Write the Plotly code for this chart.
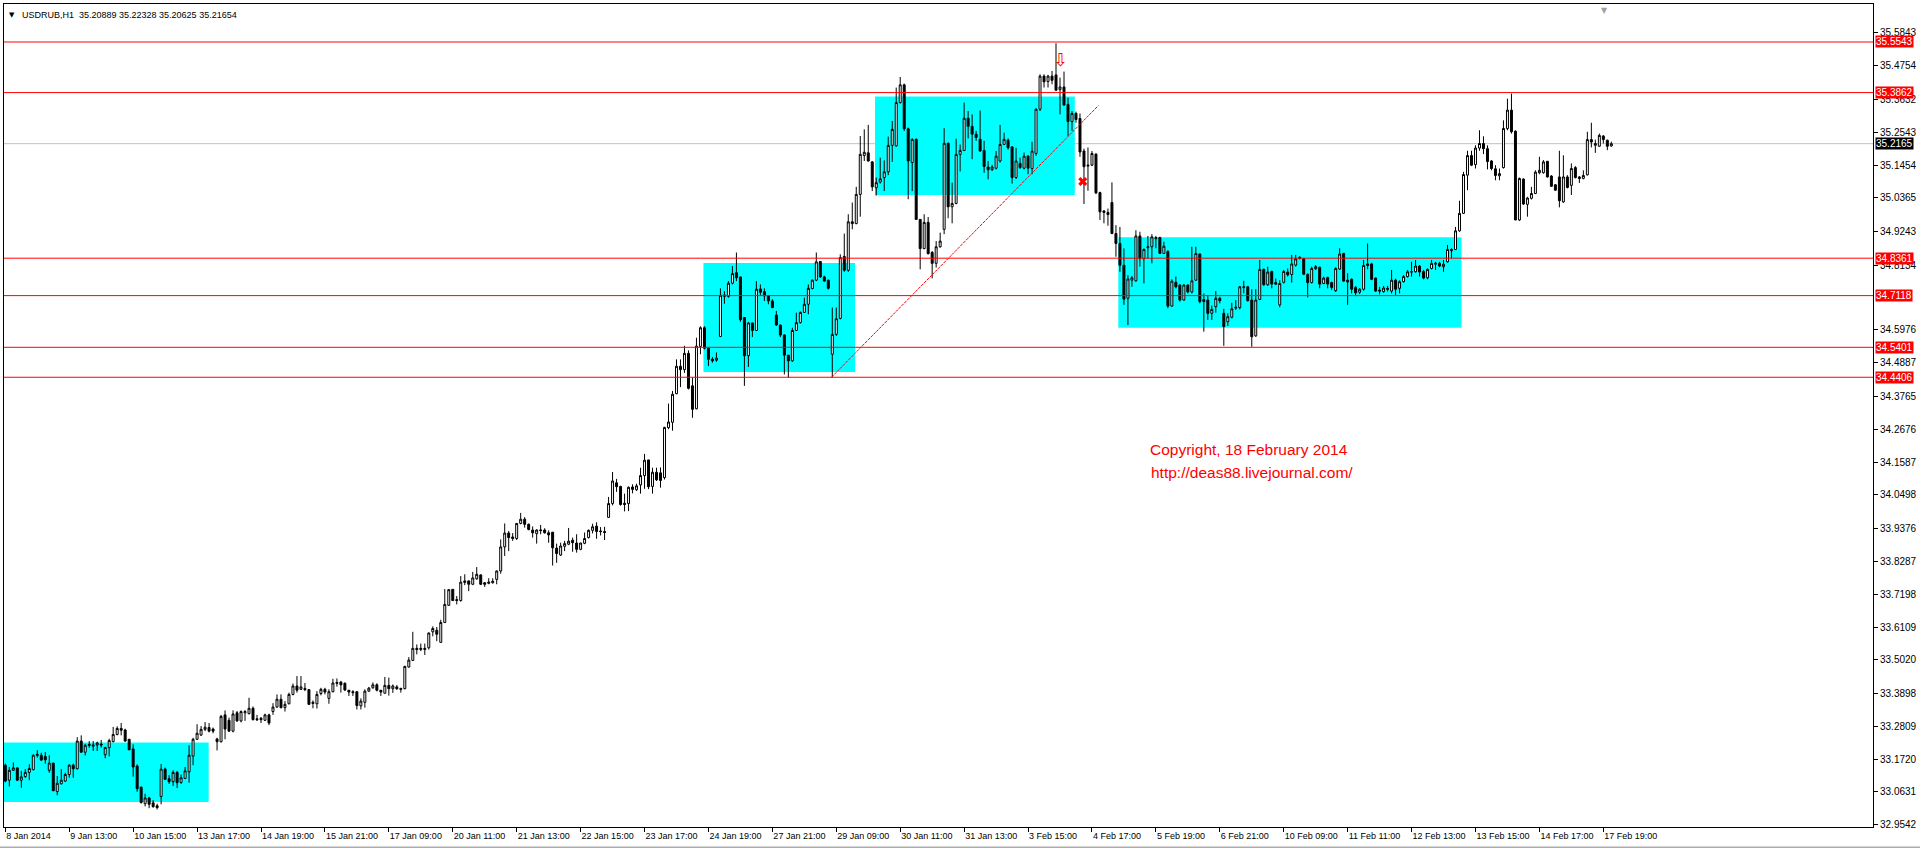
import plotly.graph_objects as go

# ---------------- data ----------------
title_text = "USDRUB,H1  35.20889 35.22328 35.20625 35.21654"

time_labels = ["8 Jan 2014", "9 Jan 13:00", "10 Jan 15:00", "13 Jan 17:00", "14 Jan 19:00",
               "15 Jan 21:00", "17 Jan 09:00", "20 Jan 11:00", "21 Jan 13:00", "22 Jan 15:00",
               "23 Jan 17:00", "24 Jan 19:00", "27 Jan 21:00", "29 Jan 09:00", "30 Jan 11:00",
               "31 Jan 13:00", "3 Feb 15:00", "4 Feb 17:00", "5 Feb 19:00", "6 Feb 21:00",
               "10 Feb 09:00", "11 Feb 11:00", "12 Feb 13:00", "13 Feb 15:00", "14 Feb 17:00",
               "17 Feb 19:00"]
label_bars = [16 * k for k in range(len(time_labels))]

price_ticks = [35.5843, 35.4754, 35.3632, 35.2543, 35.1454, 35.0365, 34.9243, 34.8134,
               34.5976, 34.4887, 34.3765, 34.2676, 34.1587, 34.0498, 33.9376, 33.8287,
               33.7198, 33.6109, 33.5020, 33.3898, 33.2809, 33.1720, 33.0631, 32.9542]

level_lines = [35.5543, 35.3862, 34.8361, 34.7118, 34.5401, 34.4406]
bid_price = 35.2165

zone_x0 = [-0.4, 174.75, 217.7, 278.6]
zone_x1 = [50.9, 212.7, 267.7, 364.5]
zone_lo = [33.030, 34.458, 35.046, 34.605]
zone_hi = [33.227, 34.820, 35.373, 34.906]

trend_x = [206.8, 273.6]
trend_y = [34.4406, 35.343]
arrow_x = [264.2]
arrow_y = [35.491]
cross_x = [269.7]
cross_y = [35.091]

copyright_lines = ["Copyright, 18 February 2014", "http://deas88.livejournal.com/"]

opens = [
 33.152, 33.102, 33.135, 33.143, 33.102, 33.114, 33.128, 33.137, 33.184, 33.185,
 33.181, 33.135, 33.159, 33.064, 33.090, 33.099, 33.121, 33.152, 33.140, 33.232,
 33.195, 33.217, 33.215, 33.219, 33.222, 33.187, 33.210, 33.230, 33.254, 33.274,
 33.269, 33.238, 33.206, 33.149, 33.079, 33.024, 33.043, 33.027, 33.017, 33.048,
 33.139, 33.107, 33.097, 33.128, 33.095, 33.108, 33.130, 33.182, 33.238, 33.252,
 33.271, 33.277, 33.272, 33.239, 33.230, 33.319, 33.301, 33.265, 33.326, 33.299,
 33.326, 33.323, 33.341, 33.306, 33.308, 33.301, 33.319, 33.330, 33.345, 33.371,
 33.343, 33.356, 33.387, 33.415, 33.404, 33.407, 33.403, 33.361, 33.356, 33.390,
 33.404, 33.374, 33.396, 33.427, 33.428, 33.424, 33.401, 33.396, 33.396, 33.349,
 33.361, 33.398, 33.409, 33.419, 33.401, 33.391, 33.417, 33.406, 33.412, 33.407,
 33.406, 33.478, 33.500, 33.540, 33.536, 33.536, 33.542, 33.595, 33.600, 33.560,
 33.626, 33.683, 33.736, 33.702, 33.699, 33.759, 33.764, 33.753, 33.771, 33.784,
 33.758, 33.756, 33.758, 33.769, 33.797, 33.877, 33.923, 33.910, 33.905, 33.955,
 33.969, 33.952, 33.933, 33.921, 33.931, 33.933, 33.924, 33.926, 33.873, 33.850,
 33.879, 33.886, 33.899, 33.890, 33.869, 33.889, 33.908, 33.932, 33.946, 33.930,
 33.928, 33.975, 34.021, 34.090, 34.078, 34.022, 34.021, 34.076, 34.067, 34.083,
 34.114, 34.166, 34.078, 34.125, 34.123, 34.107, 34.273, 34.291, 34.386, 34.477,
 34.466, 34.520, 34.412, 34.336, 34.543, 34.605, 34.537, 34.501, 34.497, 34.576,
 34.709, 34.709, 34.753, 34.788, 34.774, 34.639, 34.512, 34.621, 34.596, 34.734,
 34.725, 34.711, 34.694, 34.647, 34.614, 34.581, 34.514, 34.495, 34.596, 34.622,
 34.656, 34.683, 34.735, 34.763, 34.825, 34.774, 34.763, 34.517, 34.583, 34.636,
 34.842, 34.796, 34.957, 34.951, 35.048, 35.177, 35.186, 35.156, 35.070, 35.089,
 35.104, 35.123, 35.211, 35.209, 35.353, 35.412, 35.266, 35.154, 35.231, 34.965,
 34.868, 34.955, 34.855, 34.819, 34.874, 34.932, 35.218, 35.007, 35.018, 35.181,
 35.194, 35.301, 35.274, 35.248, 35.231, 35.194, 35.139, 35.130, 35.135, 35.159,
 35.214, 35.228, 35.206, 35.104, 35.151, 35.135, 35.175, 35.134, 35.184, 35.331,
 35.441, 35.423, 35.441, 35.445, 35.396, 35.405, 35.347, 35.290, 35.317, 35.300,
 35.192, 35.142, 35.145, 35.182, 35.054, 34.993, 34.988, 35.021, 34.918, 34.885,
 34.813, 34.703, 34.763, 34.761, 34.910, 34.835, 34.871, 34.874, 34.901, 34.905,
 34.852, 34.858, 34.677, 34.756, 34.747, 34.697, 34.747, 34.724, 34.763, 34.850,
 34.699, 34.697, 34.653, 34.675, 34.703, 34.653, 34.625, 34.640, 34.670, 34.672,
 34.739, 34.741, 34.697, 34.578, 34.699, 34.799, 34.748, 34.792, 34.755, 34.681,
 34.756, 34.790, 34.782, 34.813, 34.835, 34.834, 34.782, 34.755, 34.801, 34.806,
 34.752, 34.772, 34.755, 34.728, 34.800, 34.852, 34.763, 34.766, 34.739, 34.723,
 34.733, 34.817, 34.817, 34.770, 34.730, 34.725, 34.736, 34.727, 34.763, 34.736,
 34.758, 34.775, 34.790, 34.791, 34.810, 34.792, 34.771, 34.802, 34.816, 34.819,
 34.808, 34.824, 34.861, 34.865, 34.927, 34.985, 35.112, 35.177, 35.147, 35.202,
 35.217, 35.200, 35.159, 35.133, 35.110, 35.137, 35.267, 35.328, 35.258, 34.963,
 35.099, 35.015, 35.035, 35.051, 35.120, 35.120, 35.158, 35.109, 35.080, 35.106,
 35.023, 35.106, 35.078, 35.137, 35.106, 35.101, 35.113, 35.230, 35.211, 35.208,
 35.242, 35.228, 35.20889]

highs = [
 33.157, 33.146, 33.161, 33.145, 33.133, 33.139, 33.155, 33.188, 33.202, 33.193,
 33.196, 33.185, 33.159, 33.116, 33.139, 33.127, 33.155, 33.157, 33.245, 33.251,
 33.223, 33.232, 33.232, 33.230, 33.236, 33.212, 33.240, 33.279, 33.281, 33.292,
 33.273, 33.239, 33.221, 33.155, 33.081, 33.057, 33.047, 33.036, 33.024, 33.156,
 33.144, 33.119, 33.135, 33.133, 33.121, 33.146, 33.218, 33.243, 33.288, 33.282,
 33.295, 33.292, 33.277, 33.243, 33.319, 33.334, 33.310, 33.334, 33.332, 33.334,
 33.335, 33.376, 33.347, 33.319, 33.312, 33.323, 33.323, 33.358, 33.387, 33.387,
 33.365, 33.393, 33.423, 33.448, 33.448, 33.425, 33.403, 33.367, 33.398, 33.409,
 33.409, 33.404, 33.439, 33.440, 33.432, 33.427, 33.401, 33.401, 33.398, 33.374,
 33.404, 33.412, 33.427, 33.424, 33.401, 33.445, 33.443, 33.420, 33.418, 33.409,
 33.482, 33.511, 33.595, 33.553, 33.556, 33.556, 33.593, 33.613, 33.611, 33.635,
 33.737, 33.737, 33.737, 33.714, 33.780, 33.786, 33.766, 33.794, 33.810, 33.786,
 33.760, 33.773, 33.773, 33.799, 33.902, 33.955, 33.930, 33.923, 33.956, 33.990,
 33.976, 33.955, 33.945, 33.936, 33.950, 33.939, 33.932, 33.926, 33.888, 33.891,
 33.897, 33.940, 33.908, 33.919, 33.891, 33.925, 33.935, 33.954, 33.959, 33.943,
 33.944, 34.043, 34.126, 34.103, 34.080, 34.054, 34.078, 34.085, 34.087, 34.140,
 34.186, 34.166, 34.140, 34.140, 34.141, 34.276, 34.353, 34.395, 34.500, 34.500,
 34.545, 34.530, 34.439, 34.572, 34.610, 34.610, 34.539, 34.508, 34.523, 34.736,
 34.727, 34.760, 34.810, 34.855, 34.774, 34.639, 34.624, 34.622, 34.760, 34.749,
 34.736, 34.714, 34.700, 34.661, 34.616, 34.583, 34.514, 34.605, 34.655, 34.659,
 34.705, 34.749, 34.765, 34.855, 34.827, 34.778, 34.765, 34.672, 34.672, 34.849,
 34.918, 34.982, 35.021, 35.073, 35.242, 35.264, 35.279, 35.159, 35.104, 35.170,
 35.161, 35.240, 35.292, 35.403, 35.438, 35.416, 35.270, 35.234, 35.234, 34.965,
 34.982, 34.973, 34.860, 34.893, 34.921, 35.268, 35.220, 35.087, 35.233, 35.214,
 35.353, 35.325, 35.314, 35.259, 35.327, 35.226, 35.159, 35.146, 35.192, 35.279,
 35.253, 35.234, 35.206, 35.203, 35.170, 35.187, 35.179, 35.223, 35.334, 35.447,
 35.447, 35.445, 35.458, 35.550, 35.436, 35.456, 35.369, 35.325, 35.323, 35.317,
 35.200, 35.204, 35.192, 35.184, 35.057, 34.996, 35.001, 35.088, 34.946, 34.940,
 34.869, 34.780, 34.777, 34.929, 34.924, 34.869, 34.910, 34.916, 34.910, 34.907,
 34.891, 34.863, 34.766, 34.775, 34.750, 34.750, 34.750, 34.874, 34.874, 34.852,
 34.719, 34.714, 34.679, 34.727, 34.708, 34.668, 34.653, 34.688, 34.697, 34.744,
 34.761, 34.744, 34.733, 34.733, 34.830, 34.802, 34.808, 34.795, 34.769, 34.763,
 34.797, 34.802, 34.847, 34.847, 34.843, 34.837, 34.786, 34.808, 34.813, 34.808,
 34.775, 34.775, 34.758, 34.806, 34.869, 34.854, 34.786, 34.769, 34.744, 34.737,
 34.830, 34.885, 34.821, 34.772, 34.741, 34.744, 34.744, 34.797, 34.768, 34.763,
 34.780, 34.797, 34.824, 34.830, 34.813, 34.797, 34.802, 34.830, 34.824, 34.824,
 34.830, 34.880, 34.869, 34.940, 35.027, 35.123, 35.193, 35.193, 35.211, 35.261,
 35.241, 35.211, 35.162, 35.145, 35.134, 35.294, 35.366, 35.383, 35.261, 35.104,
 35.101, 35.040, 35.073, 35.128, 35.173, 35.162, 35.159, 35.112, 35.082, 35.193,
 35.178, 35.112, 35.151, 35.142, 35.109, 35.128, 35.256, 35.286, 35.230, 35.250,
 35.245, 35.230, 35.22328]

lows = [
 33.095, 33.081, 33.133, 33.099, 33.077, 33.110, 33.102, 33.135, 33.177, 33.166,
 33.157, 33.127, 33.066, 33.052, 33.088, 33.097, 33.110, 33.110, 33.138, 33.193,
 33.184, 33.210, 33.199, 33.199, 33.210, 33.175, 33.181, 33.228, 33.251, 33.251,
 33.230, 33.202, 33.114, 33.064, 33.024, 33.015, 33.009, 33.011, 33.005, 33.022,
 33.103, 33.090, 33.083, 33.076, 33.090, 33.106, 33.094, 33.152, 33.236, 33.249,
 33.265, 33.261, 33.258, 33.201, 33.227, 33.238, 33.263, 33.261, 33.296, 33.294,
 33.299, 33.321, 33.301, 33.299, 33.292, 33.299, 33.285, 33.319, 33.343, 33.341,
 33.330, 33.354, 33.384, 33.393, 33.402, 33.398, 33.352, 33.341, 33.340, 33.384,
 33.387, 33.356, 33.394, 33.413, 33.393, 33.398, 33.382, 33.382, 33.337, 33.337,
 33.343, 33.395, 33.406, 33.397, 33.382, 33.390, 33.383, 33.392, 33.402, 33.393,
 33.404, 33.476, 33.498, 33.520, 33.531, 33.518, 33.536, 33.580, 33.564, 33.558,
 33.624, 33.681, 33.697, 33.686, 33.695, 33.750, 33.730, 33.750, 33.768, 33.750,
 33.744, 33.753, 33.755, 33.753, 33.788, 33.847, 33.863, 33.897, 33.900, 33.952,
 33.941, 33.932, 33.908, 33.888, 33.919, 33.921, 33.891, 33.815, 33.824, 33.847,
 33.863, 33.883, 33.861, 33.858, 33.866, 33.886, 33.905, 33.922, 33.904, 33.915,
 33.900, 33.974, 34.015, 34.060, 34.014, 33.995, 33.996, 34.055, 34.063, 34.054,
 34.070, 34.069, 34.054, 34.096, 34.074, 34.101, 34.268, 34.263, 34.384, 34.408,
 34.455, 34.400, 34.306, 34.334, 34.517, 34.533, 34.478, 34.489, 34.492, 34.574,
 34.685, 34.705, 34.749, 34.760, 34.625, 34.412, 34.475, 34.574, 34.594, 34.714,
 34.694, 34.683, 34.670, 34.611, 34.574, 34.450, 34.439, 34.492, 34.594, 34.619,
 34.654, 34.650, 34.733, 34.760, 34.771, 34.758, 34.732, 34.440, 34.578, 34.633,
 34.791, 34.791, 34.932, 34.949, 34.974, 35.159, 35.157, 35.059, 35.044, 35.084,
 35.059, 35.112, 35.156, 35.207, 35.350, 35.259, 35.032, 35.059, 34.963, 34.799,
 34.866, 34.849, 34.769, 34.805, 34.871, 34.916, 34.969, 34.952, 35.015, 35.124,
 35.192, 35.234, 35.165, 35.226, 35.190, 35.120, 35.098, 35.126, 35.131, 35.154,
 35.212, 35.197, 35.084, 35.099, 35.133, 35.131, 35.115, 35.115, 35.176, 35.325,
 35.403, 35.403, 35.414, 35.392, 35.314, 35.342, 35.242, 35.259, 35.286, 35.173,
 35.016, 35.060, 35.142, 35.049, 34.963, 34.952, 34.944, 34.916, 34.841, 34.791,
 34.681, 34.614, 34.741, 34.758, 34.808, 34.752, 34.835, 34.819, 34.869, 34.850,
 34.850, 34.670, 34.675, 34.736, 34.692, 34.695, 34.719, 34.719, 34.761, 34.686,
 34.592, 34.631, 34.631, 34.655, 34.686, 34.545, 34.611, 34.636, 34.664, 34.666,
 34.719, 34.692, 34.542, 34.575, 34.697, 34.744, 34.744, 34.736, 34.747, 34.673,
 34.752, 34.775, 34.755, 34.808, 34.832, 34.780, 34.706, 34.752, 34.797, 34.736,
 34.750, 34.736, 34.730, 34.724, 34.797, 34.758, 34.681, 34.719, 34.710, 34.717,
 34.728, 34.799, 34.763, 34.724, 34.716, 34.721, 34.725, 34.719, 34.714, 34.719,
 34.755, 34.772, 34.775, 34.788, 34.775, 34.766, 34.766, 34.799, 34.797, 34.806,
 34.791, 34.821, 34.835, 34.863, 34.924, 34.983, 35.062, 35.142, 35.134, 35.193,
 35.182, 35.131, 35.128, 35.095, 35.095, 35.134, 35.261, 35.250, 34.963, 34.960,
 35.013, 34.974, 35.031, 35.049, 35.115, 35.117, 35.104, 35.073, 35.060, 35.005,
 35.020, 35.068, 35.046, 35.101, 35.086, 35.098, 35.111, 35.204, 35.186, 35.206,
 35.217, 35.195, 35.20625]

closes = [
 33.099, 33.135, 33.143, 33.102, 33.113, 33.128, 33.141, 33.185, 33.188, 33.169,
 33.170, 33.159, 33.067, 33.092, 33.102, 33.121, 33.152, 33.140, 33.232, 33.195,
 33.218, 33.221, 33.219, 33.226, 33.219, 33.211, 33.234, 33.254, 33.274, 33.268,
 33.232, 33.203, 33.146, 33.074, 33.028, 33.043, 33.022, 33.014, 33.011, 33.139,
 33.105, 33.097, 33.128, 33.094, 33.110, 33.133, 33.185, 33.238, 33.258, 33.271,
 33.278, 33.265, 33.265, 33.230, 33.314, 33.272, 33.265, 33.322, 33.299, 33.330,
 33.330, 33.341, 33.303, 33.303, 33.303, 33.319, 33.292, 33.345, 33.371, 33.343,
 33.354, 33.387, 33.415, 33.401, 33.412, 33.403, 33.354, 33.357, 33.387, 33.404,
 33.395, 33.396, 33.425, 33.424, 33.419, 33.402, 33.395, 33.393, 33.350, 33.365,
 33.398, 33.408, 33.419, 33.401, 33.395, 33.417, 33.406, 33.415, 33.406, 33.404,
 33.480, 33.501, 33.540, 33.536, 33.540, 33.540, 33.591, 33.606, 33.587, 33.626,
 33.686, 33.735, 33.699, 33.699, 33.760, 33.764, 33.753, 33.774, 33.786, 33.753,
 33.753, 33.760, 33.763, 33.797, 33.877, 33.923, 33.908, 33.905, 33.955, 33.969,
 33.952, 33.935, 33.924, 33.933, 33.933, 33.924, 33.917, 33.874, 33.855, 33.880,
 33.888, 33.896, 33.891, 33.869, 33.890, 33.905, 33.932, 33.944, 33.928, 33.928,
 33.925, 34.021, 34.096, 34.077, 34.018, 34.018, 34.075, 34.068, 34.080, 34.114,
 34.165, 34.077, 34.125, 34.100, 34.098, 34.274, 34.292, 34.384, 34.477, 34.466,
 34.520, 34.404, 34.334, 34.544, 34.605, 34.537, 34.500, 34.495, 34.504, 34.713,
 34.714, 34.753, 34.785, 34.771, 34.632, 34.512, 34.621, 34.596, 34.733, 34.723,
 34.711, 34.694, 34.672, 34.614, 34.581, 34.514, 34.495, 34.596, 34.622, 34.656,
 34.683, 34.736, 34.763, 34.824, 34.774, 34.760, 34.736, 34.583, 34.635, 34.838,
 34.796, 34.957, 34.951, 35.048, 35.181, 35.188, 35.159, 35.073, 35.087, 35.100,
 35.123, 35.211, 35.264, 35.353, 35.412, 35.266, 35.159, 35.231, 34.965, 34.868,
 34.955, 34.851, 34.819, 34.874, 34.893, 35.218, 35.007, 35.018, 35.181, 35.194,
 35.301, 35.274, 35.248, 35.237, 35.192, 35.141, 35.130, 35.139, 35.175, 35.214,
 35.231, 35.203, 35.104, 35.159, 35.137, 35.175, 35.135, 35.192, 35.331, 35.441,
 35.422, 35.441, 35.427, 35.394, 35.405, 35.345, 35.290, 35.317, 35.297, 35.189,
 35.140, 35.145, 35.184, 35.053, 34.990, 34.988, 34.981, 34.918, 34.885, 34.813,
 34.700, 34.767, 34.771, 34.910, 34.835, 34.865, 34.874, 34.907, 34.904, 34.852,
 34.876, 34.677, 34.760, 34.741, 34.697, 34.747, 34.724, 34.761, 34.852, 34.692,
 34.692, 34.653, 34.666, 34.703, 34.695, 34.609, 34.642, 34.668, 34.673, 34.741,
 34.741, 34.695, 34.575, 34.697, 34.799, 34.748, 34.790, 34.750, 34.750, 34.752,
 34.792, 34.781, 34.817, 34.834, 34.839, 34.783, 34.755, 34.802, 34.808, 34.750,
 34.770, 34.750, 34.739, 34.802, 34.850, 34.760, 34.757, 34.733, 34.721, 34.733,
 34.812, 34.812, 34.766, 34.727, 34.727, 34.737, 34.733, 34.763, 34.733, 34.758,
 34.775, 34.791, 34.791, 34.810, 34.790, 34.770, 34.799, 34.819, 34.819, 34.810,
 34.816, 34.865, 34.865, 34.927, 34.985, 35.114, 35.177, 35.145, 35.202, 35.217,
 35.200, 35.157, 35.134, 35.111, 35.117, 35.267, 35.328, 35.256, 34.963, 35.101,
 35.016, 35.036, 35.051, 35.122, 35.128, 35.156, 35.106, 35.075, 35.062, 35.027,
 35.106, 35.071, 35.134, 35.104, 35.101, 35.111, 35.230, 35.222, 35.217, 35.244,
 35.230, 35.208, 35.21654]

assert len(opens) == len(highs) == len(lows) == len(closes), (len(opens), len(highs), len(lows), len(closes))
bars = list(range(len(opens)))

# ---------------- figure ----------------
FONT = "Liberation Sans, Arial, sans-serif"
RED = "#FF0000"

fig = go.Figure()

fig.add_trace(go.Candlestick(
    x=bars, open=opens, high=highs, low=lows, close=closes,
    increasing=dict(line=dict(color="black", width=1), fillcolor="white"),
    decreasing=dict(line=dict(color="black", width=1), fillcolor="black"),
    whiskerwidth=0, showlegend=False, hoverinfo="skip"))

fig.add_trace(go.Scatter(x=trend_x, y=trend_y, mode="lines",
                         line=dict(color=RED, width=1, dash="3px,1px"),
                         showlegend=False, hoverinfo="skip"))
fig.add_trace(go.Scatter(x=arrow_x, y=arrow_y, mode="text", text=["⇩"],
                         textfont=dict(color=RED, size=18, family="DejaVu Sans"),
                         showlegend=False, hoverinfo="skip"))
fig.add_trace(go.Scatter(x=cross_x, y=cross_y, mode="markers",
                         marker=dict(symbol="x", size=8, color=RED, line=dict(width=0)),
                         showlegend=False, hoverinfo="skip"))

shapes = []
for x0, x1, lo, hi in zip(zone_x0, zone_x1, zone_lo, zone_hi):
    shapes.append(dict(type="rect", xref="x", yref="y", x0=x0, x1=x1, y0=lo, y1=hi,
                       fillcolor="#00FFFF", line=dict(width=0), layer="below"))
shapes.append(dict(type="line", xref="paper", yref="y", x0=0, x1=1, y0=bid_price, y1=bid_price,
                   line=dict(color="#C0C0C0", width=1), layer="below"))
for lv in level_lines:
    shapes.append(dict(type="line", xref="paper", yref="y", x0=0, x1=1, y0=lv, y1=lv,
                       line=dict(color=RED, width=1), layer="above"))
# window bottom edge
shapes.append(dict(type="line", xref="paper", yref="paper", x0=-0.01, x1=1.03, y0=-0.0245, y1=-0.0245,
                   line=dict(color="#808080", width=1)))

annotations = []
for lv in level_lines:
    annotations.append(dict(x=1, xref="paper", y=lv, yref="y", text=f"{lv:.4f}",
                            xanchor="left", yanchor="middle", xshift=2, showarrow=False,
                            bgcolor=RED, borderpad=0,
                            font=dict(color="white", size=10, family=FONT)))
annotations.append(dict(x=1, xref="paper", y=bid_price, yref="y", text=f"{bid_price:.4f}",
                        xanchor="left", yanchor="middle", xshift=2, showarrow=False,
                        bgcolor="black", borderpad=0,
                        font=dict(color="white", size=10, family=FONT)))
annotations.append(dict(x=0, xref="paper", y=1, yref="paper", text="▼",
                        xanchor="left", yanchor="top", xshift=3, yshift=-5, showarrow=False,
                        font=dict(color="black", size=7, family="DejaVu Sans")))
annotations.append(dict(x=0, xref="paper", y=1, yref="paper", text=title_text,
                        xanchor="left", yanchor="top", xshift=16, yshift=-4, showarrow=False,
                        font=dict(color="black", size=9, family=FONT)))
annotations.append(dict(x=400.3, xref="x", y=1, yref="paper", text="▼",
                        xanchor="center", yanchor="top", yshift=0, showarrow=False,
                        font=dict(color="#A0A0A0", size=8, family="DejaVu Sans")))
annotations.append(dict(x=311.4, xref="x", y=34.2008, yref="y", text=copyright_lines[0],
                        xanchor="center", yanchor="middle", showarrow=False,
                        font=dict(color=RED, size=15.5, family=FONT)))
annotations.append(dict(x=312.1, xref="x", y=34.1244, yref="y", text=copyright_lines[1],
                        xanchor="center", yanchor="middle", showarrow=False,
                        font=dict(color=RED, size=15.5, family=FONT)))

fig.update_layout(
    width=1920, height=849, autosize=False,
    margin=dict(l=4, r=43, t=3, b=22, pad=0),
    paper_bgcolor="white", plot_bgcolor="white",
    showlegend=False, hovermode=False,
    shapes=shapes, annotations=annotations,
    xaxis=dict(range=[-0.33, 467.5], tickmode="array", tickvals=label_bars, ticktext=time_labels,
               ticks="outside", ticklen=4, tickcolor="black", tickwidth=1,
               ticklabelposition="outside right", ticklabeloverflow="allow",
               tickfont=dict(size=9, color="black", family=FONT),
               showline=True, mirror=True, linecolor="black", linewidth=1,
               showgrid=False, zeroline=False, rangeslider=dict(visible=False), fixedrange=True),
    yaxis=dict(range=[32.9466, 35.6805], side="right", tickmode="array", tickvals=price_ticks,
               ticktext=[f"{v:.4f}" for v in price_ticks],
               ticks="outside", ticklen=4, tickcolor="black", tickwidth=1,
               ticklabeloverflow="allow",
               tickfont=dict(size=10, color="black", family=FONT),
               showline=True, mirror=True, linecolor="black", linewidth=1,
               showgrid=False, zeroline=False, fixedrange=True),
)

fig.write_html("out.html", config={"displayModeBar": False},
               post_script="document.body.style.margin='0px';document.body.style.overflow='hidden';")
